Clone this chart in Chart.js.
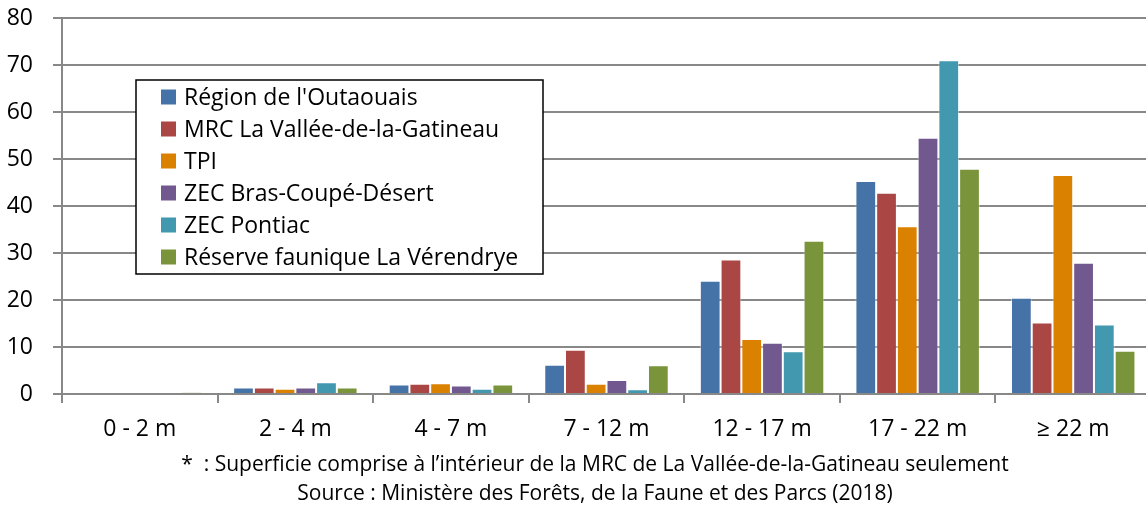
<!DOCTYPE html>
<html>
<head>
<meta charset="utf-8">
<script src="https://cdn.jsdelivr.net/npm/chart.js@4.4.1/dist/chart.umd.min.js"></script>
<style>
  html, body { margin: 0; padding: 0; background: #fff; overflow: hidden; }
  #wrap { width: 1152px; height: 506px; }
</style>
</head>
<body>
<div id="wrap"><canvas id="myChart" width="1152" height="506"></canvas></div>
<script>
const categories = ["0 - 2 m", "2 - 4 m", "4 - 7 m", "7 - 12 m", "12 - 17 m", "17 - 22 m", "≥ 22 m"];
const yTicks = [0, 10, 20, 30, 40, 50, 60, 70, 80];

const regionOutaouais = [0, 1.4, 2.0, 6.2, 24.1, 45.3, 20.5];
const mrcGatineau = [0, 1.4, 2.2, 9.4, 28.6, 42.8, 15.2];
const tpi = [0, 1.1, 2.3, 2.2, 11.7, 35.7, 46.6];
const zecBrasCoupe = [0, 1.4, 1.8, 3.0, 10.9, 54.5, 27.9];
const zecPontiac = [0, 2.5, 1.1, 1.0, 9.1, 71.0, 14.8];
const reserveVerendrye = [0.3, 1.4, 2.0, 6.1, 32.6, 47.9, 9.2];

const footnotes = [
  "*  : Superficie comprise à l’intérieur de la MRC de La Vallée-de-la-Gatineau seulement",
  "Source : Ministère des Forêts, de la Faune et des Parcs (2018)"
];

const FONT = "'Open Sans', sans-serif";
const GRID = "#888888";

function ds(label, data, color) {
  return {
    label: label,
    data: data,
    backgroundColor: color,
    borderColor: "rgba(255,255,255,0.45)",
    borderWidth: 1,
    categoryPercentage: 0.8,
    barPercentage: 1.0,
  };
}

// legend box drawn inside the plot, top-left
const boxLegend = {
  id: "boxLegend",
  afterDraw(chart) {
    const ctx = chart.ctx;
    const x0 = 136, y0 = 80, w = 407, h = 194;
    ctx.save();
    ctx.fillStyle = "#fff";
    ctx.fillRect(x0, y0, w, h);
    ctx.strokeStyle = "#000";
    ctx.lineWidth = 1.5;
    ctx.strokeRect(x0, y0, w, h);
    ctx.font = "23px " + FONT;
    ctx.textBaseline = "middle";
    chart.data.datasets.forEach((d, i) => {
      const cy = 97 + i * 32;
      ctx.fillStyle = d.backgroundColor;
      ctx.fillRect(161, cy - 7.5, 15, 15);
      ctx.fillStyle = "#000";
      ctx.fillText(d.label, 184, cy + 1);
    });
    ctx.restore();
  }
};

// source lines under the axis
const notes = {
  id: "notes",
  afterDraw(chart) {
    const ctx = chart.ctx;
    ctx.save();
    ctx.font = "21px " + FONT;
    ctx.fillStyle = "#000";
    ctx.textAlign = "center";
    ctx.textBaseline = "middle";
    ctx.fillText(footnotes[0], 595, 465);
    ctx.fillText(footnotes[1], 595, 494);
    ctx.restore();
  }
};

const ctx = document.getElementById("myChart").getContext("2d");
const myChart = new Chart(ctx, {
  type: "bar",
  data: {
    labels: categories,
    datasets: [
      ds("Région de l'Outaouais", regionOutaouais, "#4572A7"),
      ds("MRC La Vallée-de-la-Gatineau", mrcGatineau, "#AA4643"),
      ds("TPI", tpi, "#DB8100"),
      ds("ZEC Bras-Coupé-Désert", zecBrasCoupe, "#71588F"),
      ds("ZEC Pontiac", zecPontiac, "#4198AF"),
      ds("Réserve faunique La Vérendrye", reserveVerendrye, "#7A943C"),
    ],
  },
  options: {
    responsive: false,
    animation: false,
    layout: { padding: { top: 18, right: 1, left: 0, bottom: 0 } },
    plugins: {
      legend: { display: false },
      tooltip: { enabled: false },
    },
    scales: {
      x: {
        grid: {
          offset: true,
          drawOnChartArea: false,
          drawTicks: true,
          tickLength: 9,
          color: GRID,
          lineWidth: 2,
        },
        border: { color: GRID, width: 2 },
        ticks: {
          color: "#000",
          font: { family: FONT, size: 23 },
          padding: 13,
          maxRotation: 0,
        },
        afterFit(scale) {
          scale.height = 112;
          scale.paddingLeft = 0;
          scale.paddingRight = 0;
        },
      },
      y: {
        min: 0,
        max: 80,
        afterBuildTicks(scale) { scale.ticks = yTicks.map(v => ({ value: v })); },
        grid: {
          color: GRID,
          lineWidth: 2,
          tickLength: 9,
        },
        border: { color: GRID, width: 2 },
        ticks: {
          color: "#000",
          font: { family: FONT, size: 23 },
          padding: 20,
        },
        afterFit(scale) {
          scale.width = 62;
          scale.paddingTop = 0;
          scale.paddingBottom = 0;
        },
      },
    },
  },
  plugins: [boxLegend, notes],
});
</script>
</body>
</html>
